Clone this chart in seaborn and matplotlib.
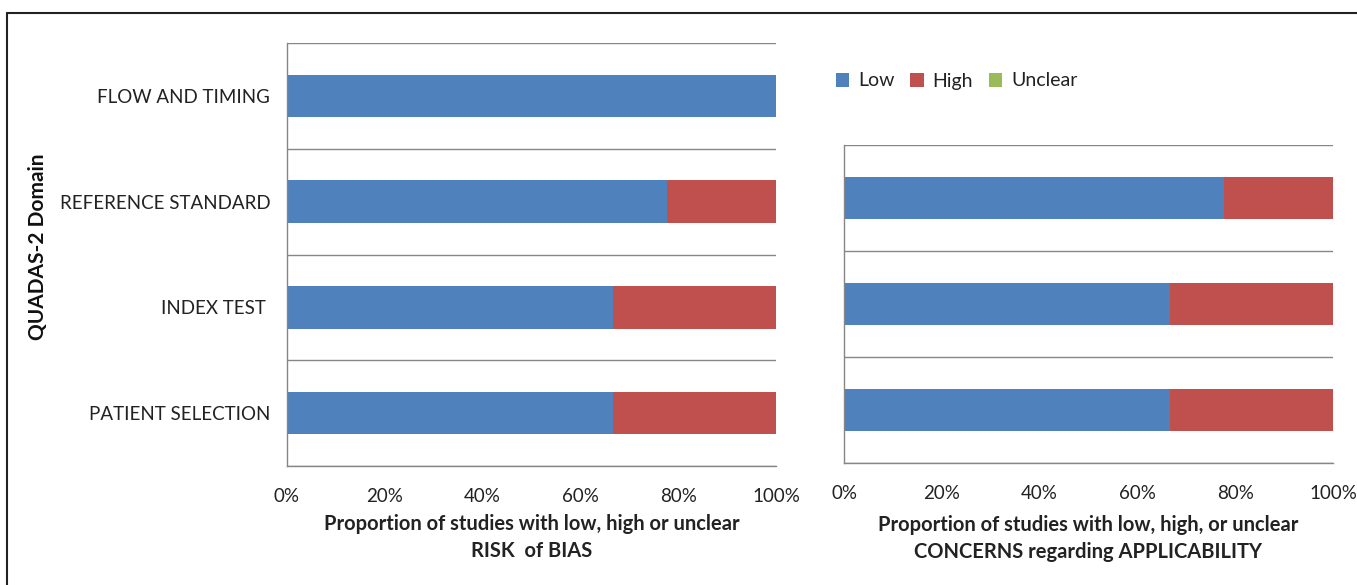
import numpy as np
import pandas as pd
import matplotlib
matplotlib.use("Agg")
import matplotlib.pyplot as plt
from matplotlib.patches import Patch
from matplotlib.lines import Line2D
from matplotlib.ticker import PercentFormatter
import seaborn as sns

# QUADAS-2 summary data (proportion of studies)
bias_domains = ["FLOW AND TIMING", "REFERENCE STANDARD", "INDEX TEST ", "PATIENT SELECTION"]
bias_low = [1.0, 7 / 9, 2 / 3, 2 / 3]
bias_high = [0.0, 2 / 9, 1 / 3, 1 / 3]
bias_unclear = [0.0, 0.0, 0.0, 0.0]

appl_domains = ["REFERENCE STANDARD", "INDEX TEST ", "PATIENT SELECTION"]
appl_low = [7 / 9, 2 / 3, 2 / 3]
appl_high = [2 / 9, 1 / 3, 1 / 3]
appl_unclear = [0.0, 0.0, 0.0]

levels = ["Low", "High", "Unclear"]
xticks = [0, 0.2, 0.4, 0.6, 0.8, 1.0]

colors = {"Low": "#4F81BD", "High": "#C0504D", "Unclear": "#9BBB59"}
grey = "#868686"

sns.set_theme(style="white")
plt.rcParams["font.family"] = ["Lato", "DejaVu Sans"]

W, H = 1357, 585
fig = plt.figure(figsize=(W / 100, H / 100), dpi=100)


def px_axes(x0, y0, x1, y1):
    return fig.add_axes([x0 / W, 1 - y1 / H, (x1 - x0) / W, (y1 - y0) / H])


def stacked(ax, domains, low, high, unclear, show_labels):
    df = pd.DataFrame({"domain": domains, "Low": low, "High": high, "Unclear": unclear})
    cum = df[levels].cumsum(axis=1)
    # widest cumulative layer first so each level shows as its own segment
    for lvl in reversed(levels):
        sns.barplot(data=cum.assign(domain=df["domain"]), x=lvl, y="domain",
                    order=domains, orient="h", color=colors[lvl], saturation=1,
                    width=0.4, linewidth=0, ax=ax)
    n = len(domains)
    ax.set_xlim(0, 1)
    ax.set_ylim(n - 0.5, -0.5)
    ax.set_xticks(xticks)
    ax.xaxis.set_major_formatter(PercentFormatter(1.0, decimals=0))
    ax.set_yticks(np.arange(-0.5, n), minor=True)
    ax.yaxis.grid(True, which="minor", color=grey, linewidth=1)
    ax.xaxis.grid(False)
    ax.set_axisbelow(True)
    for s in ["top", "right"]:
        ax.spines[s].set_visible(False)
    for s in ["left", "bottom"]:
        ax.spines[s].set_color(grey)
        ax.spines[s].set_linewidth(1)
    ax.tick_params(axis="y", which="major", length=0, pad=12, labelsize=13.5,
                   labelcolor="#222222")
    ax.tick_params(axis="y", which="minor", length=7 if show_labels else 0,
                   width=1, color=grey, direction="out")
    ax.tick_params(axis="x", which="major", length=6, width=1, color=grey,
                   direction="out", pad=10, labelsize=13.5, labelcolor="#222222")
    if not show_labels:
        ax.set_yticklabels([])
    ax.set_ylabel("")


ax1 = px_axes(287, 43, 776, 466)
stacked(ax1, bias_domains, bias_low, bias_high, bias_unclear, True)
ax1.set_xlabel("Proportion of studies with low, high or unclear\nRISK  of BIAS",
               fontsize=14.5, fontweight="bold", color="#222222",
               labelpad=6, linespacing=1.45)

ax2 = px_axes(844, 145, 1333, 463)
stacked(ax2, appl_domains, appl_low, appl_high, appl_unclear, False)
ax2.set_xlabel("Proportion of studies with low, high, or unclear\nCONCERNS regarding APPLICABILITY",
               fontsize=14.5, fontweight="bold", color="#222222",
               labelpad=9, linespacing=1.45)

fig.text(38 / W, 1 - 247 / H, "QUADAS-2 Domain", rotation=90, ha="center",
         va="center", fontsize=15, fontweight="bold", color="#111111")

handles = [Patch(facecolor=colors[l], edgecolor="none", label=l) for l in levels]
fig.legend(handles=handles, loc="center left", bbox_to_anchor=(828 / W, 1 - 81 / H),
           ncol=3, frameon=False, fontsize=14, handlelength=0.7, handleheight=0.7,
           handletextpad=0.45, columnspacing=0.8, borderaxespad=0, labelcolor="#222222")

# outer frame
fig.add_artist(Line2D([7 / W, 7 / W], [0, 1 - 13 / H], color="#222222", lw=1.5,
                      transform=fig.transFigure))
fig.add_artist(Line2D([7 / W, 1], [1 - 13 / H, 1 - 13 / H], color="#222222", lw=1.5,
                      transform=fig.transFigure))

fig.savefig("out.png", dpi=100, facecolor="white")
